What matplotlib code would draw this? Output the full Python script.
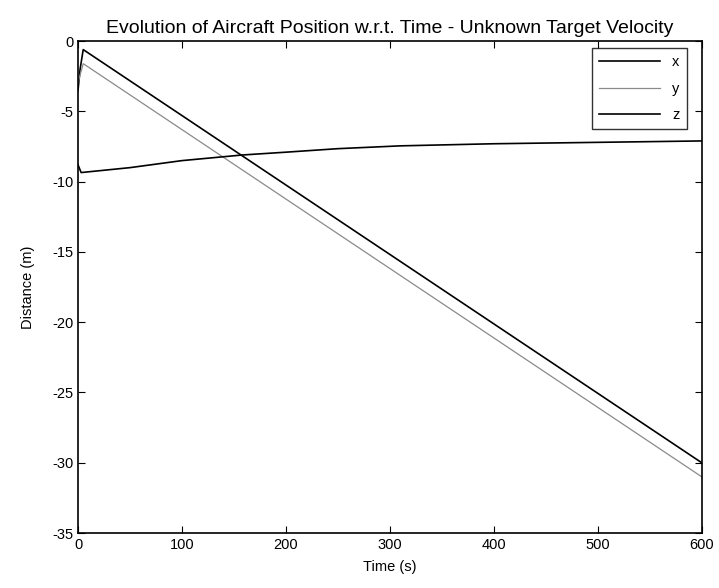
import matplotlib
matplotlib.use("Agg")
import matplotlib.pyplot as plt

# values
t_x = [0, 2, 5, 600]
pos_x = [-3.5, -2.0, -0.6, -30.0]

t_y = [0, 2, 5, 600]
pos_y = [-3.0, -2.4, -1.6, -31.0]

t_z = [0, 3, 50, 100, 158, 200, 250, 310, 400, 500, 600]
pos_z = [-8.8, -9.35, -9.0, -8.5, -8.1, -7.9, -7.65, -7.45, -7.3, -7.2, -7.1]

x_ticks = [0, 100, 200, 300, 400, 500, 600]
y_ticks = [0, -5, -10, -15, -20, -25, -30, -35]

plt.rcParams["font.family"] = ["Liberation Sans", "DejaVu Sans"]
plt.rcParams["axes.unicode_minus"] = False

fig = plt.figure(figsize=(7.19, 5.88), dpi=100)
ax = fig.add_axes([0.1085, 0.0935, 0.8675, 0.8365])

ax.plot(t_x, pos_x, color="black", linewidth=1.2, label="x")
ax.plot(t_y, pos_y, color="#8a8a8a", linewidth=0.9, label="y")
ax.plot(t_z, pos_z, color="black", linewidth=1.2, label="z")

ax.set_xlim(0, 600)
ax.set_ylim(-35, 0)
ax.set_xticks(x_ticks)
ax.set_yticks(y_ticks)
ax.tick_params(direction="in", top=True, right=True, length=5, labelsize=10.5)
for side in ax.spines.values():
    side.set_linewidth(1.2)

ax.set_xlabel("Time (s)", fontsize=10.5, labelpad=6)
ax.set_ylabel("Distance (m)", fontsize=10.5, labelpad=12)
ax.set_title("Evolution of Aircraft Position w.r.t. Time - Unknown Target Velocity",
             fontsize=14, pad=6)

leg = ax.legend(loc="upper right", bbox_to_anchor=(0.976, 0.986), borderaxespad=0,
                fontsize=10.5, frameon=True, fancybox=False, edgecolor="black",
                handlelength=4.2, labelspacing=0.85, borderpad=0.5)
leg.get_frame().set_linewidth(1.0)

fig.savefig("out.png", dpi=100)
plt.close(fig)
